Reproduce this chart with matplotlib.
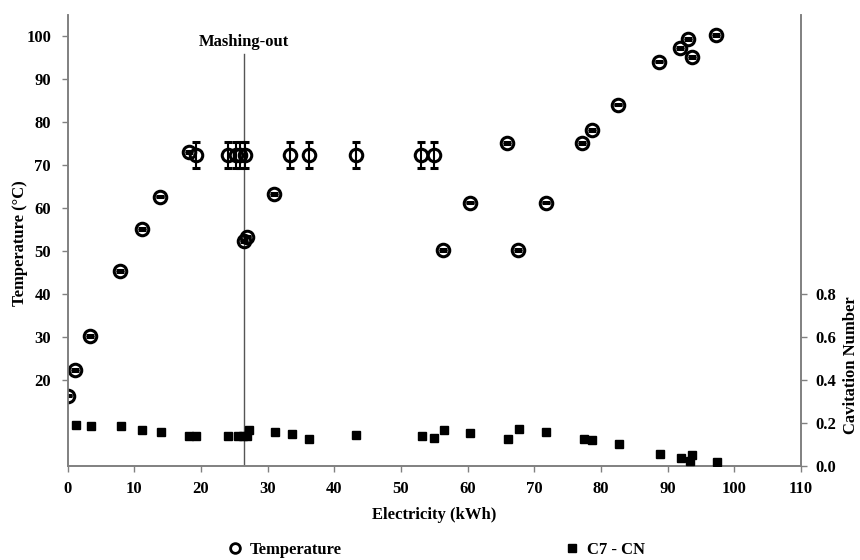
import numpy as np
import matplotlib.pyplot as plt

plt.rcParams['font.family'] = ['Liberation Serif', 'DejaVu Serif']
plt.rcParams['font.weight'] = 'bold'

# Temperature data (electricity in kWh, temperature in C)
temp_x = [0.0, 1.1, 3.3, 7.8, 11.1, 13.8, 18.2, 19.2, 24.0, 25.2, 25.9, 26.6,
          26.5, 26.95, 31.0, 33.4, 36.2, 43.3, 53.0, 55.0, 56.3, 60.3, 65.9,
          67.5, 71.7, 77.2, 78.6, 82.6, 88.7, 91.9, 93.1, 93.6, 97.3]
temp_y = [16.3, 22.2, 30.1, 45.3, 55.0, 62.6, 73.0, 72.2, 72.2, 72.2, 72.2, 72.2,
          52.3, 53.3, 63.2, 72.2, 72.2, 72.2, 72.2, 72.2, 50.2, 61.2, 75.0,
          50.2, 61.2, 75.1, 78.1, 84.0, 94.0, 97.1, 99.2, 95.0, 100.2]
temp_err = [0.2, 0.2, 0.2, 0.2, 0.2, 0.2, 0.2, 3.0, 3.0, 3.0, 3.0, 3.0,
            0.2, 0.2, 0.2, 3.0, 3.0, 3.0, 3.0, 3.0, 0.2, 0.2, 0.2,
            0.2, 0.2, 0.2, 0.2, 0.2, 0.2, 0.2, 0.2, 0.2, 0.2]

# Cavitation number data
cn_x = [1.2, 3.45, 7.95, 11.2, 14.0, 18.2, 19.2, 24.1, 25.5, 26.3, 26.85, 27.15,
        31.1, 33.6, 36.2, 43.3, 53.15, 54.95, 56.45, 60.4, 66.05, 67.65, 71.7,
        77.4, 78.7, 82.65, 88.8, 92.0, 93.3, 93.7, 97.35]
cn_y = [0.191, 0.186, 0.183, 0.166, 0.158, 0.138, 0.138, 0.138, 0.138, 0.140, 0.140, 0.168,
        0.158, 0.146, 0.126, 0.141, 0.138, 0.130, 0.166, 0.154, 0.126, 0.171, 0.158,
        0.126, 0.121, 0.101, 0.053, 0.036, 0.023, 0.048, 0.016]

mashing_out = 26.5

fig = plt.figure(figsize=(8.6, 5.6), dpi=100)
ax = fig.add_axes([0.0787, 0.1684, 0.8527, 0.8046])
ax2 = ax.twinx()

# Temperature with error bars
ax.errorbar(temp_x, temp_y, yerr=temp_err, fmt='o', markersize=9,
            markerfacecolor='none', markeredgecolor='black', markeredgewidth=2.2,
            ecolor='black', elinewidth=1.5, capsize=3, capthick=1.5, zorder=3)
ax.plot([], [], 'o', markersize=7, markerfacecolor='none', markeredgecolor='black',
        markeredgewidth=2, label='Temperature')

# Cavitation number
ax2.plot(cn_x, cn_y, 's', color='black', markersize=6, label='C7 - CN', zorder=3)

# Mashing-out line
ax.plot([mashing_out, mashing_out], [0, 95.7], color='#555555', linewidth=1, zorder=2)
ax.text(mashing_out, 98.5, 'Mashing-out', ha='center', va='center',
        fontsize=12, fontweight='bold')

ax.set_xlim(0, 110)
ax.set_ylim(0, 104.8)
ax2.set_ylim(0, 2.096)
ax.set_xticks(np.arange(0, 111, 10))
ax.set_yticks(np.arange(20, 101, 10))
ax2.set_yticks([0.0, 0.2, 0.4, 0.6, 0.8])
ax2.set_yticklabels(['0.0', '0.2', '0.4', '0.6', '0.8'])

for a in (ax, ax2):
    for s in a.spines.values():
        s.set_color('#808080')
        s.set_linewidth(1.2)
    a.spines['top'].set_visible(False)
    a.tick_params(labelsize=12, length=4, width=1, color='#808080', direction='out')
ax.tick_params(axis='y', pad=8)
ax.tick_params(axis='x', pad=7)
ax2.tick_params(axis='y', pad=6)

ax.set_xlabel('Electricity (kWh)', fontsize=12, fontweight='bold', labelpad=7)
fig.text(0.023, 0.566, 'Temperature (°C)', rotation=90, ha='center', va='center',
         fontsize=12, fontweight='bold')
fig.text(0.99, 0.348, 'Cavitation Number', rotation=90, ha='center', va='center',
         fontsize=12, fontweight='bold')

h1, l1 = ax.get_legend_handles_labels()
h2, l2 = ax2.get_legend_handles_labels()
fig.legend(h1 + h2, l1 + l2, loc='center', bbox_to_anchor=(0.506, 0.018), ncol=2,
           frameon=False, fontsize=12, columnspacing=13.2, handletextpad=0.3,
           handlelength=1.2)

plt.savefig('out.png', dpi=100)
